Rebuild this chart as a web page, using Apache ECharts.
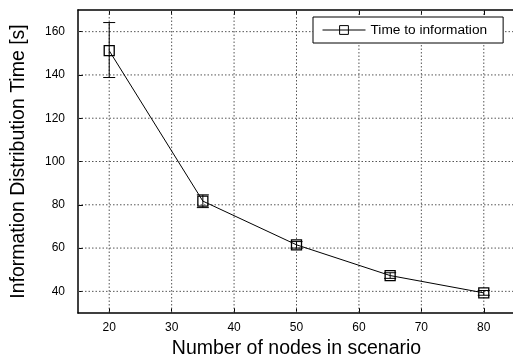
<!DOCTYPE html>
<html><head><meta charset="utf-8">
<script src="https://cdn.jsdelivr.net/npm/echarts@6/dist/echarts.min.js"></script>
<style>html,body{margin:0;padding:0;background:#fff}#c{width:513px;height:357px}</style>
</head><body><div id="c"></div>
<script>
const nodes = [20, 35, 50, 65, 80];
const times = [151.2, 81.7, 61.5, 47.3, 39.3];
const errLow = [138.8, 78.7, 60.0, 46.0, 38.2];
const errHigh = [164.2, 84.6, 63.0, 48.6, 40.4];
const xTicks = [20, 30, 40, 50, 60, 70, 80];
const yTicks = [40, 60, 80, 100, 120, 140, 160];

const font = 'Liberation Sans, Arial, Helvetica, sans-serif';
const chart = echarts.init(document.getElementById('c'), null, {renderer: 'canvas'});
chart.setOption({
  animation: false,
  backgroundColor: '#fff',
  grid: {left: 78, right: -2, top: 10, bottom: 44, containLabel: false, outerBoundsMode: 'none'},
  legend: {
    data: ['Time to information'],
    left: 313, top: 17,
    itemWidth: 43, itemHeight: 11, itemGap: 10,
    padding: [6, 16, 6, 9],
    borderColor: '#000', borderWidth: 1, borderRadius: 0,
    backgroundColor: '#fff',
    lineStyle: {width: 1, color: '#000'},
    itemStyle: {color: 'rgba(255,255,255,0)', borderColor: '#000', borderWidth: 1},
    textStyle: {fontFamily: font, fontSize: 13.7, color: '#000'}
  },
  xAxis: [{
    type: 'value', min: 15, max: 85, interval: 5,
    name: 'Number of nodes in scenario', nameLocation: 'middle', nameGap: 25,
    nameTextStyle: {fontFamily: font, fontSize: 19.5, color: '#000'},
    axisLine: {show: true, lineStyle: {color: '#000', width: 1.5}},
    axisTick: {show: true, inside: true, length: 5, lineStyle: {color: '#000'},
      customValues: xTicks},
    axisLabel: {fontFamily: font, fontSize: 12, color: '#000', margin: 9,
      customValues: xTicks},
    splitLine: {show: false}
  }, {
    type: 'value', min: 15, max: 85, interval: 5, position: 'top',
    axisLine: {show: true, lineStyle: {color: '#000', width: 1.5}},
    axisTick: {show: true, inside: true, length: 5, lineStyle: {color: '#000'}, customValues: xTicks},
    axisLabel: {show: false},
    splitLine: {show: false}
  }],
  yAxis: {
    type: 'value', min: 30, max: 170, interval: 10,
    name: 'Information Distribution Time [s]', nameLocation: 'middle', nameGap: 49,
    nameTextStyle: {fontFamily: font, fontSize: 19.5, color: '#000'},
    axisLine: {show: true, lineStyle: {color: '#000', width: 1.5}},
    axisTick: {show: true, inside: true, length: 5, lineStyle: {color: '#000'}, customValues: yTicks},
    axisLabel: {fontFamily: font, fontSize: 12, color: '#000', margin: 13, customValues: yTicks},
    splitLine: {show: false}
  },
  series: [
    {
      type: 'custom', xAxisIndex: 0, silent: true,
      data: xTicks.map(v => [v]),
      renderItem: (p, api) => {
        const x = api.coord([api.value(0), 30])[0];
        const r = p.coordSys;
        return {type: 'line', shape: {x1: x, y1: r.y, x2: x, y2: r.y + r.height},
          style: {stroke: '#555', lineWidth: 1, lineDash: [1.5, 2]}};
      }, z: 1
    },
    {
      type: 'custom', xAxisIndex: 0, silent: true,
      data: yTicks.map(v => [v]),
      renderItem: (p, api) => {
        const y = api.coord([15, api.value(0)])[1];
        const r = p.coordSys;
        return {type: 'line', shape: {x1: r.x, y1: y, x2: r.x + r.width, y2: y},
          style: {stroke: '#555', lineWidth: 1, lineDash: [1.5, 2]}};
      }, z: 1
    },
    {
      type: 'custom', xAxisIndex: 0, silent: true,
      data: nodes.map((n, i) => [n, errLow[i], errHigh[i]]),
      renderItem: (p, api) => {
        const lo = api.coord([api.value(0), api.value(1)]);
        const hi = api.coord([api.value(0), api.value(2)]);
        const w = 6;
        const st = {stroke: '#000', lineWidth: 1};
        return {type: 'group', children: [
          {type: 'line', shape: {x1: lo[0], y1: lo[1], x2: hi[0], y2: hi[1]}, style: st},
          {type: 'line', shape: {x1: lo[0] - w, y1: lo[1], x2: lo[0] + w, y2: lo[1]}, style: st},
          {type: 'line', shape: {x1: hi[0] - w, y1: hi[1], x2: hi[0] + w, y2: hi[1]}, style: st}
        ]};
      }, z: 3
    },
    {
      name: 'Time to information', type: 'line', xAxisIndex: 0,
      data: nodes.map((n, i) => [n, times[i]]),
      symbol: 'rect', symbolSize: 10,
      lineStyle: {color: '#000', width: 1},
      itemStyle: {color: 'rgba(255,255,255,0)', borderColor: '#000', borderWidth: 1.3},
      z: 4
    }
  ]
});
</script></body></html>
